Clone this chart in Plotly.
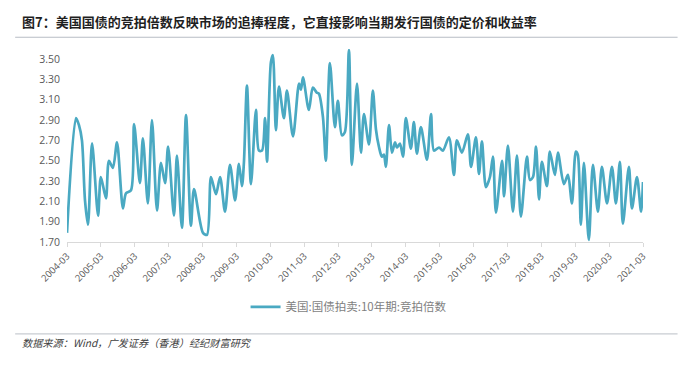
import plotly.graph_objects as go

dates = [
    "2004-03-01", "2004-06-06", "2004-07-08", "2004-08-09", "2004-09-11", "2004-10-13", "2004-11-26",
    "2005-01-30", "2005-03-01", "2005-04-25", "2005-05-27", "2005-07-09", "2005-08-22", "2005-10-25",
    "2005-11-27", "2006-01-20", "2006-02-22", "2006-04-26", "2006-05-28", "2006-07-21", "2006-09-03",
    "2006-10-27", "2006-12-09", "2007-01-22", "2007-02-24", "2007-04-28", "2007-05-30", "2007-07-23",
    "2007-09-05", "2007-10-28", "2007-11-30", "2008-03-06", "2008-04-18", "2008-05-31", "2008-07-24",
    "2008-09-06", "2008-10-29", "2008-12-22", "2009-02-15", "2009-03-28", "2009-04-30", "2009-05-21",
    "2009-06-23", "2009-08-05", "2009-09-28", "2009-10-30", "2009-12-02", "2010-01-04", "2010-01-25",
    "2010-03-08", "2010-03-29", "2010-05-01", "2010-06-03", "2010-07-26", "2010-08-28", "2010-11-01",
    "2011-01-05", "2011-01-26", "2011-02-17", "2011-04-21", "2011-06-03", "2011-07-16", "2011-08-07",
    "2011-09-20", "2011-10-21", "2011-12-04", "2012-01-27", "2012-02-28", "2012-04-11", "2012-05-13",
    "2012-06-26", "2012-07-28", "2012-09-21", "2012-11-03", "2012-12-05", "2013-01-28", "2013-03-11",
    "2013-04-13", "2013-05-15", "2013-06-16", "2013-07-08", "2013-07-29", "2013-09-01", "2013-10-03",
    "2013-11-05", "2013-11-26", "2013-12-28", "2014-01-30", "2014-03-02", "2014-04-25", "2014-05-27",
    "2014-06-29", "2014-08-11", "2014-10-15", "2014-11-28", "2014-12-30", "2015-02-22", "2015-04-05",
    "2015-06-09", "2015-08-02", "2015-09-03", "2015-10-27", "2015-12-30", "2016-02-02", "2016-03-26",
    "2016-04-28", "2016-05-30", "2016-07-12", "2016-08-24", "2016-09-26", "2016-10-28", "2017-01-02",
    "2017-01-23", "2017-03-06", "2017-04-29", "2017-06-11", "2017-07-24", "2017-09-27", "2017-10-29",
    "2017-12-01", "2018-01-03", "2018-02-04", "2018-03-07", "2018-04-30", "2018-06-01", "2018-07-25",
    "2018-08-27", "2018-10-30", "2018-12-13", "2019-01-25", "2019-03-08", "2019-03-29", "2019-05-01",
    "2019-06-03", "2019-07-26", "2019-09-08", "2019-11-01", "2019-12-14", "2020-02-07", "2020-03-31",
    "2020-05-13", "2020-06-25", "2020-07-27", "2020-09-30", "2020-11-02", "2020-12-26", "2021-02-08",
    "2021-03-01",
]

bid_to_cover = [
    1.79, 2.92, 2.85, 2.70, 2.11, 1.87, 2.67,
    1.96, 2.34, 2.13, 2.50, 2.43, 2.68, 2.03,
    2.18, 2.21, 2.86, 2.28, 2.72, 2.08, 2.90,
    2.01, 2.48, 2.28, 2.64, 1.96, 2.55, 1.84,
    2.95, 1.86, 2.22, 1.79, 1.77, 2.34, 2.17,
    2.34, 2.00, 2.46, 2.11, 2.47, 2.25, 2.48,
    3.24, 2.27, 3.00, 2.60, 2.60, 2.92, 2.49,
    3.47, 3.54, 2.80, 3.23, 2.92, 3.19, 2.74,
    3.26, 3.20, 3.32, 3.00, 3.22, 3.17, 3.16,
    2.93, 2.50, 3.46, 2.83, 3.09, 2.75, 2.78,
    3.59, 2.46, 3.26, 2.58, 2.96, 2.66, 3.19,
    2.81, 2.64, 2.54, 2.56, 2.44, 2.85, 2.58,
    2.68, 2.63, 2.67, 2.54, 2.92, 2.62, 2.88,
    2.57, 2.83, 2.51, 2.96, 2.60, 2.63, 2.60,
    2.73, 2.36, 2.70, 2.58, 2.76, 2.44, 2.73,
    2.37, 2.69, 2.24, 2.34, 2.54, 1.99, 2.50,
    2.15, 2.65, 2.00, 2.55, 1.95, 2.54, 2.31,
    2.34, 2.64, 2.12, 2.49, 2.25, 2.59, 2.36,
    2.58, 2.27, 2.36, 2.08, 2.59, 2.56, 1.87,
    2.48, 1.72, 2.46, 2.00, 2.44, 2.08, 2.44,
    2.08, 2.49, 1.88, 2.44, 2.03, 2.34, 2.00,
    2.29,
]

x_ticks = ["%d-03-01" % y for y in range(2004, 2022)]
x_tick_labels = ["%d-03" % y for y in range(2004, 2022)]
y_ticks = [1.70, 1.90, 2.10, 2.30, 2.50, 2.70, 2.90, 3.10, 3.30, 3.50]

series_name = "美国:国债拍卖:10年期:竞拍倍数"
title_text = "图7：美国国债的竞拍倍数反映市场的追捧程度，它直接影响当期发行国债的定价和收益率"
source_text = "数据来源：Wind，广发证券（香港）经纪财富研究"

CJK = "Noto Sans CJK SC"
LINE_COLOR = "#4aa9c2"

fig = go.Figure()
fig.add_trace(go.Scatter(
    x=dates, y=bid_to_cover, mode="lines", name=series_name,
    line=dict(color=LINE_COLOR, width=2.7, shape="spline", smoothing=0.8),
))

fig.update_layout(
    width=693, height=366,
    margin=dict(l=67, r=50, t=49, b=124),
    paper_bgcolor="white", plot_bgcolor="white",
    font=dict(family="Open Sans, " + CJK, color="#595959"),
    showlegend=True,
    legend=dict(
        orientation="h", x=0.31, y=-0.336, xanchor="left", yanchor="middle",
        font=dict(family=CJK, size=11.5, color="#7f7f7f"),
        itemwidth=30, bgcolor="rgba(0,0,0,0)",
    ),
    xaxis=dict(
        type="date", range=["2004-03-01", "2021-03-01"],
        tickvals=x_ticks, ticktext=x_tick_labels, tickangle=-45,
        tickfont=dict(size=9.5, color="#595959"),
        showgrid=False, zeroline=False,
        showline=True, linecolor="#d9d9d9", linewidth=1,
        ticks="outside", ticklen=4, tickcolor="#d9d9d9",
    ),
    yaxis=dict(
        range=[1.70, 3.60], tickvals=y_ticks,
        ticktext=["%.2f" % v for v in y_ticks],
        tickfont=dict(size=10.5, color="#595959"),
        showgrid=False, zeroline=False, showline=False,
        ticks="", ticklabelstandoff=6,
    ),
    annotations=[
        dict(text="<b>" + title_text + "</b>", xref="paper", yref="paper",
             x=-0.081, y=1.145, xanchor="left", yanchor="middle", showarrow=False,
             font=dict(family=CJK, size=13, color="#1f1f1f")),
        dict(text="<i>" + source_text + "</i>", xref="paper", yref="paper",
             x=-0.081, y=-0.523, xanchor="left", yanchor="middle", showarrow=False,
             font=dict(family=CJK, size=10.2, color="#404040")),
    ],
    shapes=[
        dict(type="line", xref="paper", yref="paper", x0=-0.09, x1=1.06, y0=1.061, y1=1.061,
             line=dict(color="#b7bcc4", width=1.2)),
        dict(type="line", xref="paper", yref="paper", x0=-0.09, x1=1.06, y0=-0.476, y1=-0.476,
             line=dict(color="#c8ccd2", width=1.2)),
    ],
)

fig.write_html(
    "out.html",
    config={"displayModeBar": False},
    post_script="document.body.style.margin='0';document.body.style.overflow='hidden';",
)
